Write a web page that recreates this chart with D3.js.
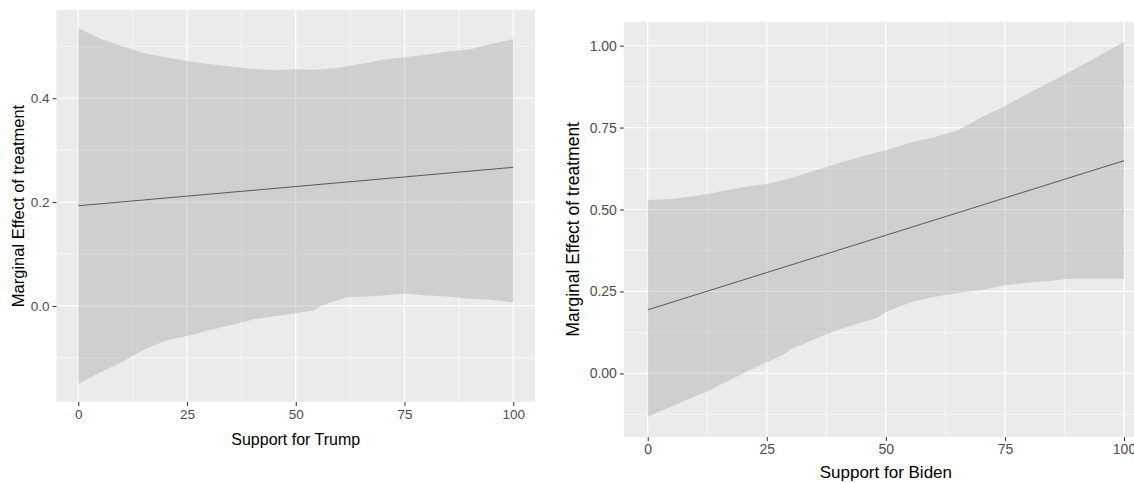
<!DOCTYPE html>
<html>
<head>
<meta charset="utf-8">
<script src="https://cdn.jsdelivr.net/npm/d3@7"></script>
<style>
  html, body { margin: 0; padding: 0; background: #ffffff; overflow: hidden; }
  svg { display: block; }
  text { font-family: "Liberation Sans", Arial, sans-serif; }
</style>
</head>
<body>
<svg id="chart" width="1134" height="483"></svg>
<script>
// ---- Data ----
// Left panel: Support for Trump
const trumpX     = [0, 5, 10, 15, 20, 25, 30, 35, 40, 45, 50, 54, 56, 60, 62, 67, 70, 75, 80, 85, 90, 95, 100];
const trumpUpper = [0.535, 0.515, 0.500, 0.487, 0.479, 0.472, 0.466, 0.461, 0.457, 0.454, 0.456, 0.455, 0.456, 0.459, 0.462, 0.469, 0.474, 0.479, 0.484, 0.490, 0.494, 0.505, 0.514];
const trumpLower = [-0.150, -0.128, -0.108, -0.085, -0.067, -0.058, -0.047, -0.037, -0.026, -0.020, -0.014, -0.009, 0.001, 0.012, 0.017, 0.018, 0.020, 0.024, 0.020, 0.018, 0.014, 0.012, 0.007];
const trumpLineX = [0, 100];
const trumpLine  = [0.193, 0.267];

// Right panel: Support for Biden
const bidenX     = [0, 5, 10, 12.5, 15, 20, 25, 28.5, 30, 35, 40, 45, 48, 50, 55, 60, 65, 70, 75, 80, 85, 88, 90, 95, 100];
const bidenUpper = [0.529, 0.532, 0.541, 0.547, 0.554, 0.568, 0.578, 0.590, 0.596, 0.618, 0.641, 0.662, 0.674, 0.681, 0.704, 0.720, 0.741, 0.781, 0.816, 0.855, 0.893, 0.916, 0.931, 0.971, 1.012];
const bidenLower = [-0.132, -0.101, -0.070, -0.055, -0.037, 0.000, 0.035, 0.057, 0.074, 0.104, 0.133, 0.156, 0.168, 0.187, 0.216, 0.233, 0.245, 0.254, 0.269, 0.277, 0.283, 0.289, 0.289, 0.289, 0.289];
const bidenLineX = [0, 100];
const bidenLine  = [0.194, 0.649];

// Tick labels
const xTicks       = [0, 25, 50, 75, 100];
const xMinor       = [12.5, 37.5, 62.5, 87.5];
const trumpYTicks  = [0.0, 0.2, 0.4];
const trumpYMinor  = [-0.1, 0.1, 0.3, 0.5];
const bidenYTicks  = [0.00, 0.25, 0.50, 0.75, 1.00];
const bidenYMinor  = [-0.125, 0.125, 0.375, 0.625, 0.875];

const yTitle = "Marginal Effect of treatment";

const svg = d3.select("#chart");

function panel(cfg) {
  const x = d3.scaleLinear().domain([-5, 105]).range([cfg.left, cfg.right]);
  const y = d3.scaleLinear().domain(cfg.yDomain).range([cfg.bottom, cfg.top]);
  const g = svg.append("g");

  // background
  g.append("rect")
    .attr("x", cfg.left).attr("y", cfg.top)
    .attr("width", cfg.right - cfg.left).attr("height", cfg.bottom - cfg.top)
    .attr("fill", "#EBEBEB");

  // minor grid
  g.selectAll(".gxm").data(xMinor).enter().append("line")
    .attr("x1", d => x(d)).attr("x2", d => x(d))
    .attr("y1", cfg.top).attr("y2", cfg.bottom)
    .attr("stroke", "#ffffff").attr("stroke-width", 0.6);
  g.selectAll(".gym").data(cfg.yMinor).enter().append("line")
    .attr("y1", d => y(d)).attr("y2", d => y(d))
    .attr("x1", cfg.left).attr("x2", cfg.right)
    .attr("stroke", "#ffffff").attr("stroke-width", 0.6);
  // major grid
  g.selectAll(".gx").data(xTicks).enter().append("line")
    .attr("x1", d => x(d)).attr("x2", d => x(d))
    .attr("y1", cfg.top).attr("y2", cfg.bottom)
    .attr("stroke", "#ffffff").attr("stroke-width", 1.2);
  g.selectAll(".gy").data(cfg.yTicks).enter().append("line")
    .attr("y1", d => y(d)).attr("y2", d => y(d))
    .attr("x1", cfg.left).attr("x2", cfg.right)
    .attr("stroke", "#ffffff").attr("stroke-width", 1.2);

  // ribbon
  const pts = cfg.xs.map((d, i) => ({x: d, lo: cfg.lower[i], hi: cfg.upper[i]}));
  const area = d3.area().x(d => x(d.x)).y0(d => y(d.lo)).y1(d => y(d.hi));
  g.append("path").datum(pts).attr("d", area)
    .attr("fill", "#999999").attr("fill-opacity", 0.34);

  // line
  const lpts = cfg.lineX.map((d, i) => ({x: d, v: cfg.line[i]}));
  g.append("path").datum(lpts)
    .attr("d", d3.line().x(d => x(d.x)).y(d => y(d.v)))
    .attr("fill", "none").attr("stroke", "#3a3a3a").attr("stroke-width", 0.8);

  // axes
  const xAxis = d3.axisBottom(x).tickValues(xTicks).tickSize(4).tickPadding(3).tickFormat(d3.format("d"));
  const gx = g.append("g").attr("transform", `translate(0,${cfg.bottom})`).call(xAxis);
  gx.select(".domain").remove();
  gx.selectAll(".tick line").attr("stroke", "#333333").attr("stroke-width", 1);
  gx.selectAll(".tick text").attr("fill", "#4D4D4D").attr("font-size", cfg.tickFont + "px")
    .attr("font-family", "Liberation Sans, Arial, sans-serif");

  const yAxis = d3.axisLeft(y).tickValues(cfg.yTicks).tickSize(4).tickPadding(3).tickFormat(d3.format(cfg.yFmt));
  const gy = g.append("g").attr("transform", `translate(${cfg.left},0)`).call(yAxis);
  gy.select(".domain").remove();
  gy.selectAll(".tick line").attr("stroke", "#333333").attr("stroke-width", 1);
  gy.selectAll(".tick text").attr("fill", "#4D4D4D").attr("font-size", cfg.tickFont + "px")
    .attr("font-family", "Liberation Sans, Arial, sans-serif");

  // titles
  g.append("text")
    .attr("x", x(50)).attr("y", cfg.xTitleY)
    .attr("text-anchor", "middle").attr("font-size", cfg.titleFont + "px").attr("fill", "#000")
    .text(cfg.xTitle);
  g.append("text")
    .attr("transform", `translate(${cfg.yTitleX},${(cfg.top + cfg.bottom) / 2}) rotate(-90)`)
    .attr("text-anchor", "middle").attr("font-size", cfg.yTitleFont + "px").attr("fill", "#000")
    .text(yTitle);
}

panel({
  left: 56.5, right: 535, top: 10, bottom: 402,
  yDomain: [-0.185, 0.570],
  yTicks: trumpYTicks, yMinor: trumpYMinor, yFmt: ".1f",
  xs: trumpX, upper: trumpUpper, lower: trumpLower,
  lineX: trumpLineX, line: trumpLine,
  tickFont: 13.5, titleFont: 16, yTitleFont: 16.5,
  xTitle: "Support for Trump", xTitleY: 445, yTitleX: 23.5
});

panel({
  left: 623.9, right: 1147.8, top: 21.7, bottom: 437,
  yDomain: [-0.194, 1.073],
  yTicks: bidenYTicks, yMinor: bidenYMinor, yFmt: ".2f",
  xs: bidenX, upper: bidenUpper, lower: bidenLower,
  lineX: bidenLineX, line: bidenLine,
  tickFont: 14, titleFont: 17, yTitleFont: 17.5,
  xTitle: "Support for Biden", xTitleY: 478, yTitleX: 579
});
</script>
</body>
</html>
